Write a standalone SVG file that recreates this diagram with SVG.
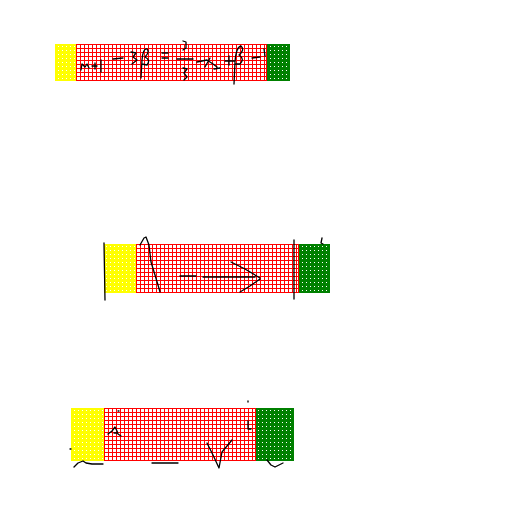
<svg xmlns="http://www.w3.org/2000/svg" width="512" height="512" viewBox="0 0 512 512">
<defs>
<pattern id="gridR" width="4" height="4" patternUnits="userSpaceOnUse">
<rect width="4" height="4" fill="#fff"/>
<rect width="4" height="1" fill="#f00"/>
<rect width="1" height="4" fill="#f00"/>
</pattern>
<pattern id="dotY" width="4" height="4" patternUnits="userSpaceOnUse">
<rect width="4" height="4" fill="#ff0"/>
<rect x="2" y="2" width="1" height="1" fill="#fff"/>
</pattern>
<pattern id="dotG" width="4" height="4" patternUnits="userSpaceOnUse">
<rect width="4" height="4" fill="#008000"/>
<rect x="2" y="2" width="1" height="1" fill="#fff"/>
</pattern>
</defs>
<style>
.ink{fill:none;stroke:#000;stroke-width:1.3;stroke-linecap:round;stroke-linejoin:round}
.red{fill:url(#gridR);stroke:#f00;stroke-width:1}
.yel{fill:url(#dotY)}
.grn{fill:url(#dotG)}
</style>
<rect width="512" height="512" fill="#fff"/>

<g id="band1">
<rect class="yel" x="55" y="44" width="21" height="37"/>
<rect class="red" x="76.5" y="44.5" width="190" height="36"/>
<rect class="grn" x="267" y="44" width="23" height="37"/>
<path class="ink" d="M81 70 L82 64 L85 67 L87 64 L89 68 M92 66 L97 66 M95 63 L95 69 M101 60 L101 72 M113 59 L123 58 M131 52 L136 53 L133 57 L137 60 L132 64 M141 78 L142 60 Q143 48 147 49 Q150 52 145 57 Q151 60 147 65 L142 64 M162 53 L168 53 M162 58 L168 58 M183 41 L186 42 L186 48 L183 50 M177 59 L193 59 M183 68 L187 69 L184 73 L187 77 L184 80 M197 62 L207 60 L213 64 L217 67 M205 67 L210 58 M214 69 L220 68 M225 61 L234 61 M229 56 L229 65 M234 84 L235 62 Q236 47 241 46 Q245 50 239 55 Q245 59 240 64 L236 64 M252 58 L260 57 M264 49 L265 56"/>
</g>

<g id="band2">
<rect class="yel" x="104" y="244" width="32" height="49"/>
<rect class="red" x="136.5" y="244.5" width="162" height="48"/>
<rect class="grn" x="299" y="244" width="31" height="49"/>
<path class="ink" d="M104 243 L105 300 M140 245 L144 238 L146 237 L149 245 L151 262 L155 275 L158 285 L160 292 M180 276 L196 276 M203 277 L255 277 M231 262 L245 269 L260 278 M260 279 L250 286 L240 292 M294 240 L294 299 M322 238 L321 243 L323 244"/>
</g>

<g id="band3">
<rect class="yel" x="71" y="408" width="33" height="53"/>
<rect class="red" x="104.5" y="408.5" width="151" height="52"/>
<rect class="grn" x="256" y="408" width="38" height="53"/>
<path class="ink" d="M248 401 L248 402 M118 411 L119 411 M108 434 L112 431 L115 427 L117 431 L118 434 L121 436 M114 433 L117 433 M70 449 L71 449 M74 467 L78 463 L83 461 L86 463 L92 464 L103 464 M152 463 L178 463 M207 443 L213 455 L219 468 L222 452 L232 440 M248 421 L248 429 L251 429 M267 460 L271 465 L275 467 L283 463"/>
</g>
</svg>
